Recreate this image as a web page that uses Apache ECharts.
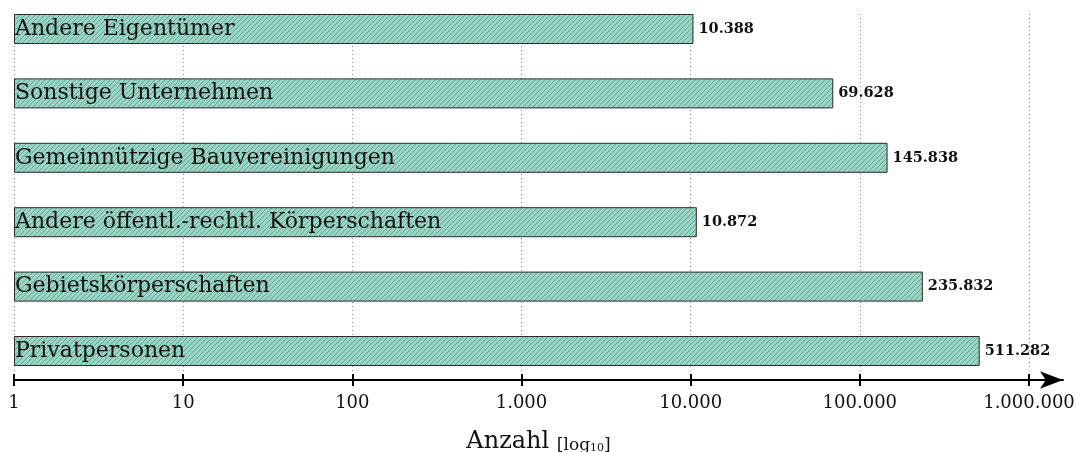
<!DOCTYPE html>
<html>
<head>
<meta charset="utf-8">
<script src="https://cdn.jsdelivr.net/npm/echarts@6/dist/echarts.min.js"></script>
<style>
  html, body { margin: 0; padding: 0; background: #fff; }
  #chart { width: 1077px; height: 452px; }
</style>
</head>
<body>
<div id="chart"></div>
<script>
// Eigentümer und Anzahl (logarithmische Skala)
const categories = [
  'Andere Eigentümer',
  'Sonstige Unternehmen',
  'Gemeinnützige Bauvereinigungen',
  'Andere öffentl.-rechtl. Körperschaften',
  'Gebietskörperschaften',
  'Privatpersonen'
];
const counts = [10388, 69628, 145838, 10872, 235832, 511282];
const axisMin = 1;
const axisMax = 1000000;

// German thousands separator
function fmt(v) {
  return String(Math.round(v)).replace(/\B(?=(\d{3})+(?!\d))/g, '.');
}

// Hatched teal fill
function hatch() {
  const s = 5;
  const c = document.createElement('canvas');
  c.width = s; c.height = s;
  const g = c.getContext('2d');
  g.fillStyle = '#97d5c4';
  g.fillRect(0, 0, s, s);
  g.strokeStyle = '#6fa494';
  g.lineWidth = 1;
  g.beginPath();
  g.moveTo(0, s); g.lineTo(s, 0);
  g.moveTo(-1, 1); g.lineTo(1, -1);
  g.moveTo(s - 1, s + 1); g.lineTo(s + 1, s - 1);
  g.stroke();
  return c;
}

const serif = 'DejaVu Serif';
const chart = echarts.init(document.getElementById('chart'), null, { renderer: 'canvas' });

chart.setOption({
  animation: false,
  backgroundColor: '#fff',
  grid: [
    // axis ticks, labels and grid lines
    { left: 14, right: 48, top: 14, bottom: 72, outerBoundsMode: 'none', containLabel: false },
    // bars (category centres from first to last row)
    { left: 14, right: 48, top: 29, bottom: 101, outerBoundsMode: 'none', containLabel: false },
    // axis line with arrow and axis title
    { left: 14, right: 14, top: 14, bottom: 72, outerBoundsMode: 'none', containLabel: false }
  ],
  xAxis: [
    {
      gridIndex: 0, type: 'log', logBase: 10, min: axisMin, max: axisMax, position: 'bottom',
      axisLine: { show: false },
      axisTick: { show: true, inside: false, length: 6, lineStyle: { color: '#000', width: 2 } },
      splitLine: { show: true, lineStyle: { color: '#8a8a8a', width: 1, type: [1, 3] } },
      axisLabel: {
        margin: 14, color: '#111', fontFamily: serif, fontSize: 18,
        formatter: v => fmt(v)
      }
    },
    {
      gridIndex: 0, type: 'log', logBase: 10, min: axisMin, max: axisMax, position: 'bottom',
      axisLine: { show: false },
      axisTick: { show: true, inside: true, length: 6, lineStyle: { color: '#000', width: 2 } },
      splitLine: { show: false },
      axisLabel: { show: false }
    },
    {
      gridIndex: 1, type: 'log', logBase: 10, min: axisMin, max: axisMax,
      show: false
    },
    {
      gridIndex: 2, type: 'value', min: 0, max: 1, position: 'bottom',
      axisLine: {
        show: true, symbol: ['none', 'arrow'], symbolSize: [13, 23],
        lineStyle: { color: '#000', width: 2 }
      },
      axisTick: { show: false }, axisLabel: { show: false }, splitLine: { show: false },
      name: '{a|Anzahl }{b|[log}{c|10}{b|]}',
      nameLocation: 'middle',
      nameGap: 46,
      nameTextStyle: {
        rich: {
          a: { fontFamily: serif, fontSize: 24, color: '#111', verticalAlign: 'bottom', lineHeight: 28 },
          b: { fontFamily: serif, fontSize: 17, color: '#111', verticalAlign: 'bottom', lineHeight: 26 },
          c: { fontFamily: serif, fontSize: 11, color: '#111', verticalAlign: 'bottom', lineHeight: 19 }
        }
      }
    }
  ],
  yAxis: [
    { gridIndex: 0, type: 'category', data: categories, show: false },
    { gridIndex: 1, type: 'category', data: categories, inverse: true, boundaryGap: false, show: false },
    { gridIndex: 2, type: 'category', data: categories, show: false }
  ],
  series: [
    {
      type: 'bar',
      xAxisIndex: 2, yAxisIndex: 1,
      data: counts,
      barWidth: 30,
      itemStyle: {
        color: { image: hatch(), repeat: 'repeat' },
        borderColor: '#2b2b2b', borderWidth: 1
      },
      label: {
        show: true, position: 'insideLeft', distance: 1,
        fontFamily: serif, fontSize: 22, color: '#111',
        formatter: p => p.name
      },
      z: 3
    },
    {
      type: 'bar',
      xAxisIndex: 2, yAxisIndex: 1,
      data: counts,
      barWidth: 30,
      barGap: '-100%',
      itemStyle: { color: 'transparent', borderWidth: 0 },
      label: {
        show: true, position: 'right', distance: 5,
        fontFamily: serif, fontSize: 14.5, fontWeight: 'bold', color: '#111',
        formatter: p => fmt(p.value)
      },
      z: 4
    }
  ]
});
</script>
</body>
</html>
